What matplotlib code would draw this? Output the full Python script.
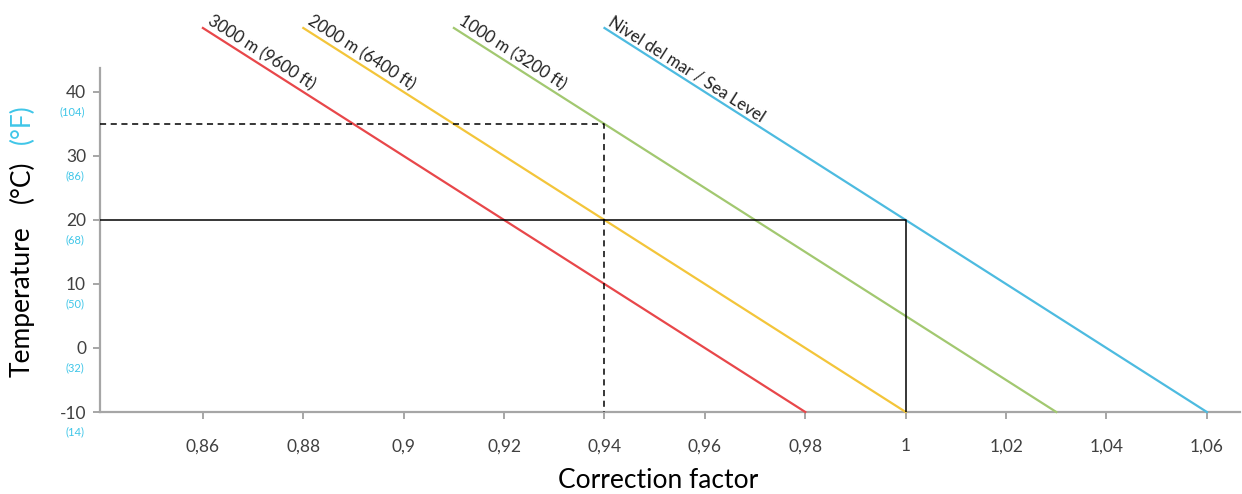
import numpy as np
import matplotlib
matplotlib.use("Agg")
import matplotlib.pyplot as plt

plt.rcParams['font.family'] = ['Lato', 'DejaVu Sans']

# data
temps = [-10, 50]
red_factor = [0.98, 0.86]
yellow_factor = [1.00, 0.88]
green_factor = [1.03, 0.91]
blue_factor = [1.06, 0.94]
series_labels = ["3000 m (9600 ft)", "2000 m (6400 ft)", "1000 m (3200 ft)", "Nivel del mar / Sea Level"]
series_colors = ["#e8474a", "#f3c53a", "#a2c870", "#4dbbe0"]

x_ticks = [0.86, 0.88, 0.90, 0.92, 0.94, 0.96, 0.98, 1.00, 1.02, 1.04, 1.06]
x_ticklabels = ["0,86", "0,88", "0,9", "0,92", "0,94", "0,96", "0,98", "1", "1,02", "1,04", "1,06"]
y_ticks = [-10, 0, 10, 20, 30, 40]
f_labels = ["(14)", "(32)", "(50)", "(68)", "(86)", "(104)"]

# example readings
dash_temp, dash_factor = 35, 0.94
solid_temp, solid_factor = 20, 1.00

cyan = "#3fc6e8"
gray = "#a6a6a6"
txt = "#404040"

W, H = 1242, 494
fig = plt.figure(figsize=(W / 100, H / 100), dpi=100)
ax = fig.add_axes([100 / W, 82 / H, 1140 / W, 344 / H])
xmin, xmax = 0.8395, 1.0666
ymin, ymax = -10, 43.75
ax.set_xlim(xmin, xmax)
ax.set_ylim(ymin, ymax)

all_factors = [red_factor, yellow_factor, green_factor, blue_factor]
for fac, lab, col in zip(all_factors, series_labels, series_colors):
    ax.plot(fac, temps, color=col, lw=1.6, clip_on=False, zorder=3)
    ax.annotate(lab, xy=(fac[1], temps[1]), xytext=(1, 1), textcoords="offset points",
                rotation=-32.5, rotation_mode="anchor", ha="left", va="bottom",
                fontsize=12, color="#222222", annotation_clip=False)

ax.plot([xmin, dash_factor, dash_factor], [dash_temp, dash_temp, ymin],
        color="black", lw=1.1, ls=(0, (4, 3)), zorder=4)
ax.plot([xmin, solid_factor, solid_factor], [solid_temp, solid_temp, ymin],
        color="black", lw=1.1, zorder=4)

for s in ["top", "right"]:
    ax.spines[s].set_visible(False)
for s in ["left", "bottom"]:
    ax.spines[s].set_color(gray)
    ax.spines[s].set_linewidth(1.6)

ax.set_xticks(x_ticks)
ax.set_xticklabels(x_ticklabels)
ax.set_yticks(y_ticks)
ax.set_yticklabels([str(v) for v in y_ticks])
ax.tick_params(axis="x", colors=gray, labelcolor=txt, labelsize=12.5, length=5, width=1.4, pad=14)
ax.tick_params(axis="y", colors=gray, labelcolor=txt, labelsize=12.5, length=5, width=1.4, pad=5)

for v, f in zip(y_ticks, f_labels):
    ax.annotate(f, xy=(0, v), xycoords=("axes fraction", "data"), xytext=(-11, -14),
                textcoords="offset points", ha="right", va="center", fontsize=8,
                color=cyan, annotation_clip=False)

fig.text(658 / W, (H - 480) / H, "Correction factor", ha="center", va="center",
         fontsize=19, color="black")
fig.text(22 / W, (H - 302) / H, "Temperature", rotation=90, ha="center", va="center",
         fontsize=19, color="black")
fig.text(22 / W, (H - 182) / H, "(°C)", rotation=90, ha="center", va="center",
         fontsize=19, color="black")
fig.text(22 / W, (H - 124) / H, "(°F)", rotation=90, ha="center", va="center",
         fontsize=19, color=cyan)

fig.savefig("out.png", dpi=100)
